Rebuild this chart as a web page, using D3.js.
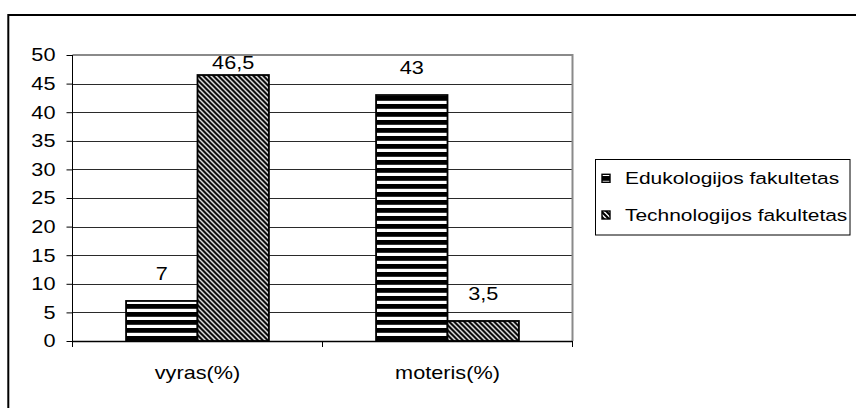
<!DOCTYPE html>
<html>
<head>
<meta charset="utf-8">
<script src="https://cdn.jsdelivr.net/npm/d3@7"></script>
<style>
  html, body { margin: 0; padding: 0; background: #fff; }
  svg { display: block; }
  text { font-family: "Liberation Sans", Arial, sans-serif; fill: #000; }
</style>
</head>
<body>
<svg id="chart" width="856" height="408"></svg>
<script>
// ---- data ----
const categories = ["vyras(%)", "moteris(%)"];
const seriesNames = ["Edukologijos fakultetas", "Technologijos fakultetas"];
const eduValues = [7, 43];
const techValues = [46.5, 3.5];
const valueLabels = [["7", "46,5"], ["43", "3,5"]];
const yTicks = [0, 5, 10, 15, 20, 25, 30, 35, 40, 45, 50];

const SX = 1.24; // horizontal text stretch seen in reference

const svg = d3.select("#chart");
const defs = svg.append("defs");

// horizontal stripes pattern
const pH = defs.append("pattern").attr("id", "hstripe")
  .attr("patternUnits", "userSpaceOnUse").attr("width", 8).attr("height", 8);
pH.append("rect").attr("width", 8).attr("height", 8).attr("fill", "#fff");
pH.append("rect").attr("y", 0).attr("width", 8).attr("height", 4.8).attr("fill", "#000");

// diagonal stripes pattern ("\" direction)
const pD = defs.append("pattern").attr("id", "dstripe")
  .attr("patternUnits", "userSpaceOnUse").attr("width", 5).attr("height", 5);
pD.append("rect").attr("width", 5).attr("height", 5).attr("fill", "#fff");
pD.append("path").attr("d", "M0,0 L5,5 M-1,4 L1,6 M4,-1 L6,1")
  .attr("stroke", "#000").attr("stroke-width", 2.2).attr("fill", "none");

const fills = ["url(#hstripe)", "url(#dstripe)"];

// outer frame
svg.append("rect").attr("x", 8.3).attr("y", 15).attr("width", 900).attr("height", 450)
  .attr("fill", "#fff").attr("stroke", "#000").attr("stroke-width", 2);

// scales
const plotL = 72.5, plotR = 572.5, plotT = 55, plotB = 341;
const y = d3.scaleLinear().domain([0, 50]).range([plotB, plotT]);
const x0 = d3.scaleBand().domain(categories).range([plotL, plotR]).padding(0);
const x1 = d3.scaleBand().domain(seriesNames).range([0, x0.bandwidth()])
  .paddingInner(0).paddingOuter(0.75);

// gridlines
svg.append("g").selectAll("line").data(yTicks.filter(t => t > 0 && t < 50)).join("line")
  .attr("x1", plotL).attr("x2", plotR)
  .attr("y1", d => Math.round(y(d)) + 0.5).attr("y2", d => Math.round(y(d)) + 0.5)
  .attr("stroke", "#2a2a2a").attr("stroke-width", 1);

// plot area border (top & right, gray)
svg.append("path")
  .attr("d", `M${plotL},${plotT} L${plotR},${plotT} L${plotR},${plotB}`)
  .attr("fill", "none").attr("stroke", "#8a8a8a").attr("stroke-width", 2);

// bars
const rows = categories.map((c, i) => ({ cat: c, vals: [eduValues[i], techValues[i]], labels: valueLabels[i] }));
const grp = svg.append("g").selectAll("g").data(rows).join("g")
  .attr("transform", d => `translate(${x0(d.cat)},0)`);
grp.selectAll("rect").data(d => d.vals.map((v, j) => ({ v, s: seriesNames[j], j }))).join("rect")
  .attr("x", d => x1(d.s)).attr("width", x1.bandwidth())
  .attr("y", d => y(d.v)).attr("height", d => y(0) - y(d.v))
  .attr("fill", d => fills[d.j]).attr("stroke", "#000").attr("stroke-width", 1.8);

// value labels
grp.selectAll("text").data(d => d.vals.map((v, j) => ({ v, s: seriesNames[j], lab: d.labels[j] }))).join("text")
  .attr("transform", d => {
    const bx = x1(d.s) + x1.bandwidth() / 2;
    const by = Math.max(y(d.v) - 20.7, plotT + 14.3);
    return `translate(${bx},${by}) scale(${SX},1)`;
  })
  .attr("text-anchor", "middle").attr("font-size", 17.5).text(d => d.lab);

// y axis
const yAxis = d3.axisLeft(y).tickValues(yTicks).tickSize(6).tickFormat("");
const ya = svg.append("g").attr("transform", `translate(${plotL},0)`).call(yAxis);
ya.select(".domain").attr("stroke", "#000").attr("d", `M0,${plotT}V${plotB + 6}`);
ya.selectAll(".tick line").attr("stroke", "#000");
svg.append("g").selectAll("text").data(yTicks).join("text")
  .attr("transform", d => `translate(55.5,${y(d)}) scale(${SX},1)`)
  .attr("dy", "0.36em").attr("text-anchor", "end").attr("font-size", 17.5)
  .text(d => d);

// x axis
svg.append("line").attr("x1", plotL).attr("x2", plotR)
  .attr("y1", plotB + 0.5).attr("y2", plotB + 0.5).attr("stroke", "#000").attr("stroke-width", 1.5);
const bounds = categories.map(c => x0(c)).concat([plotR]);
svg.append("g").selectAll("line").data(bounds).join("line")
  .attr("x1", d => d).attr("x2", d => d).attr("y1", plotB).attr("y2", plotB + 6)
  .attr("stroke", "#000");
svg.append("g").selectAll("text").data(categories).join("text")
  .attr("transform", d => `translate(${x0(d) + x0.bandwidth() / 2},378.5) scale(${SX},1)`)
  .attr("text-anchor", "middle").attr("font-size", 17.5).text(d => d);

// legend
const lg = svg.append("g");
lg.append("rect").attr("x", 595.5).attr("y", 159.5).attr("width", 254.5).attr("height", 75.5)
  .attr("fill", "#fff").attr("stroke", "#000").attr("stroke-width", 1);
const legY = [184.3, 221];
seriesNames.forEach((s, i) => {
  lg.append("rect").attr("x", 602).attr("y", legY[i] - 10).attr("width", 8).attr("height", 8)
    .attr("fill", fills[i]).attr("stroke", "#000").attr("stroke-width", 1.4);
  lg.append("text").attr("transform", `translate(625,${legY[i]}) scale(1.27,1)`)
    .attr("font-size", 16.5).text(s);
});
</script>
</body>
</html>
